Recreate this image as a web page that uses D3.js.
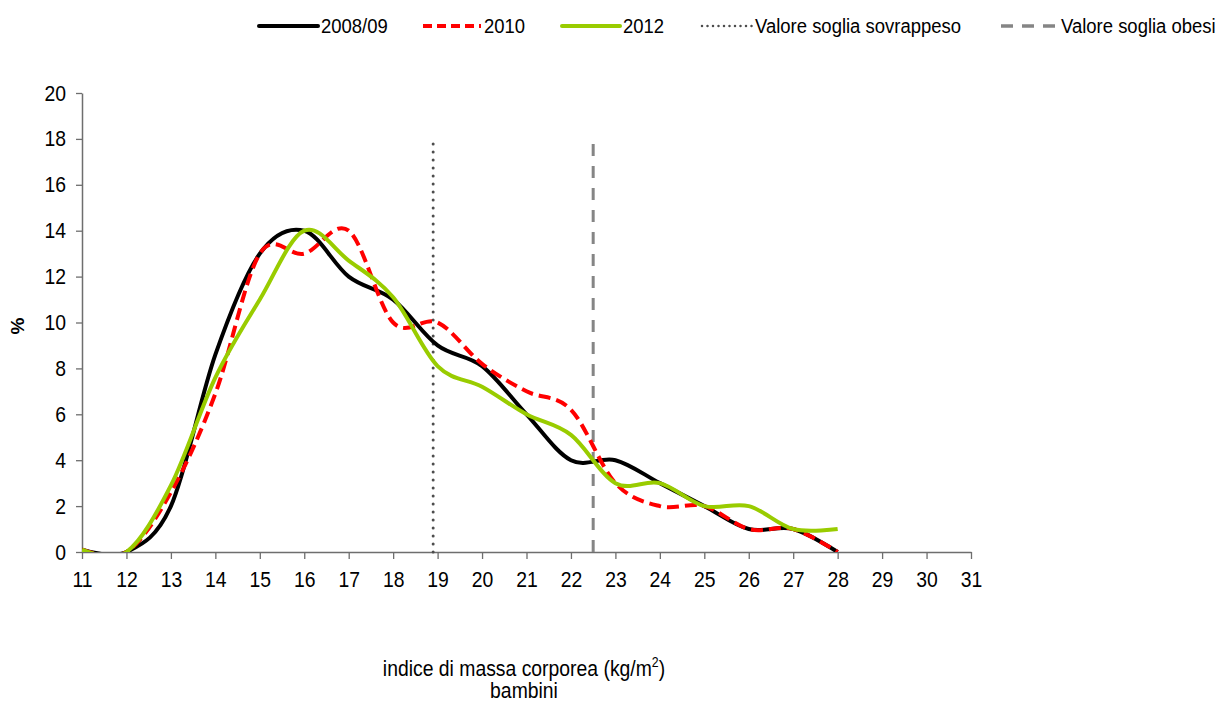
<!DOCTYPE html>
<html>
<head>
<meta charset="utf-8">
<script src="https://cdn.jsdelivr.net/npm/d3@7"></script>
<style>
  body { margin: 0; background: #fff; }
  svg text { font-family: "Liberation Sans", Arial, sans-serif; fill: #000; }
</style>
</head>
<body>
<div id="chart"></div>
<script>
// BMI classes (kg/m2) and % of children per class
var bmi = [11, 12, 13, 14, 15, 16, 17, 18, 19, 20, 21, 22, 23, 24, 25, 26, 27, 28];
var s2008 = [0.1, 0, 2, 8.6, 13, 14, 12, 11, 9, 8.1, 6, 4, 4, 3, 2, 1, 1, 0];
var s2010 = [0.1, 0, 2.6, 6.9, 13, 13, 14, 10, 10, 8.2, 7, 6.2, 3, 2, 2, 1, 1, 0];
var s2012 = [0.1, 0, 2.9, 7.6, 11, 14, 12.7, 11.1, 8.1, 7.2, 6, 5.1, 3, 3, 2, 2, 1, 1];
var thresholds = [
  {name: "Valore soglia sovrappeso", x: 18.9, top: 18},
  {name: "Valore soglia obesi", x: 22.5, top: 18}
];
var yTicks = [0, 2, 4, 6, 8, 10, 12, 14, 16, 18, 20];
var xTicks = d3.range(11, 32);

var W = 1219, H = 701;
var pLeft = 82, pRight = 971, pTop = 93, pBottom = 552;
var SX = 0.88; // narrow font look (Arial Narrow like)

var series = [
  {name: "2008/09", vals: s2008, color: "#000000", dash: null},
  {name: "2010", vals: s2010, color: "#ff0000", dash: "12,6"},
  {name: "2012", vals: s2012, color: "#99cc00", dash: null}
];

var svg = d3.select("#chart").append("svg").attr("width", W).attr("height", H);

var x = d3.scaleLinear().domain([11, 31]).range([pLeft, pRight]);
var y = d3.scaleLinear().domain([0, 20]).range([pBottom, pTop]);

svg.append("defs").append("clipPath").attr("id", "plot")
  .append("rect").attr("x", pLeft).attr("y", pTop - 5).attr("width", pRight - pLeft).attr("height", pBottom - pTop + 5);

//put a text at px,py squeezed horizontally
function narrowText(g, px, py, size){
  return g.append("text")
    .attr("transform", "translate(" + px + "," + py + ") scale(" + SX + ",1)")
    .style("font-size", size + "px");
}

//axes
var yAxis = svg.append("g").attr("transform", "translate(" + pLeft + ",0)")
  .call(d3.axisLeft(y).tickValues(yTicks).tickSize(6).tickSizeOuter(0).tickPadding(10));
var xAxis = svg.append("g").attr("transform", "translate(0," + pBottom + ")")
  .call(d3.axisBottom(x).tickValues(xTicks).tickSize(7).tickSizeOuter(0).tickPadding(12));
[yAxis, xAxis].forEach(function(a){
  a.select(".domain").attr("stroke", "#6e6e6e").attr("stroke-width", 1.5);
  a.selectAll(".tick line").attr("stroke", "#6e6e6e").attr("stroke-width", 1.3);
  a.selectAll(".tick text").style("font-size", "22px").attr("fill", "#000")
    .attr("transform", "scale(" + SX + ",1)");
});
yAxis.selectAll(".tick text").attr("x", -16 / SX);

//threshold lines
svg.append("line")
  .attr("x1", x(thresholds[0].x)).attr("x2", x(thresholds[0].x))
  .attr("y1", y(0)).attr("y2", y(thresholds[0].top))
  .attr("stroke", "#4d4d4d").attr("stroke-width", 3)
  .attr("stroke-dasharray", "0,8").attr("stroke-linecap", "round");
svg.append("line")
  .attr("x1", x(thresholds[1].x)).attr("x2", x(thresholds[1].x))
  .attr("y1", y(0)).attr("y2", y(thresholds[1].top))
  .attr("stroke", "#858585").attr("stroke-width", 3)
  .attr("stroke-dasharray", "12,10");

//curves
var line = d3.line()
  .x(function(d, i){ return x(bmi[i]); })
  .y(function(d){ return y(d); })
  .curve(d3.curveCardinal.tension(0));

svg.append("g").attr("clip-path", "url(#plot)")
  .selectAll("path").data(series).enter().append("path")
  .attr("d", function(d){ return line(d.vals); })
  .attr("fill", "none")
  .attr("stroke", function(d){ return d.color; })
  .attr("stroke-width", 4)
  .attr("stroke-dasharray", function(d){ return d.dash; });

//legend
var legend = [
  {name: "2008/09", x1: 259, x2: 318, color: "#000000", w: 4, dash: null, cap: "round"},
  {name: "2010", x1: 423, x2: 481, color: "#ff0000", w: 4, dash: "9,5", cap: "butt"},
  {name: "2012", x1: 562, x2: 620, color: "#99cc00", w: 4, dash: null, cap: "round"},
  {name: thresholds[0].name, x1: 702, x2: 752, color: "#4d4d4d", w: 2.5, dash: "0,5.5", cap: "round"},
  {name: thresholds[1].name, x1: 1001, x2: 1058, color: "#858585", w: 3.5, dash: "12,9", cap: "butt"}
];
var lg = svg.append("g");
legend.forEach(function(d){
  lg.append("line")
    .attr("x1", d.x1).attr("x2", d.x2).attr("y1", 26).attr("y2", 26)
    .attr("stroke", d.color).attr("stroke-width", d.w)
    .attr("stroke-dasharray", d.dash).attr("stroke-linecap", d.cap);
  narrowText(lg, d.x2 + 3, 33, 21).text(d.name);
});

//axis titles
svg.append("text").attr("transform", "translate(24,326) rotate(-90)")
  .attr("text-anchor", "middle").style("font-size", "19px").style("font-weight", "bold").text("%");

var xt = narrowText(svg, 524, 676, 22).attr("text-anchor", "middle");
xt.append("tspan").text("indice di massa corporea (kg/m");
xt.append("tspan").attr("dy", -9).style("font-size", "14px").text("2");
xt.append("tspan").attr("dy", 9).text(")");
narrowText(svg, 524, 698, 22).attr("text-anchor", "middle").text("bambini");
</script>
</body>
</html>
